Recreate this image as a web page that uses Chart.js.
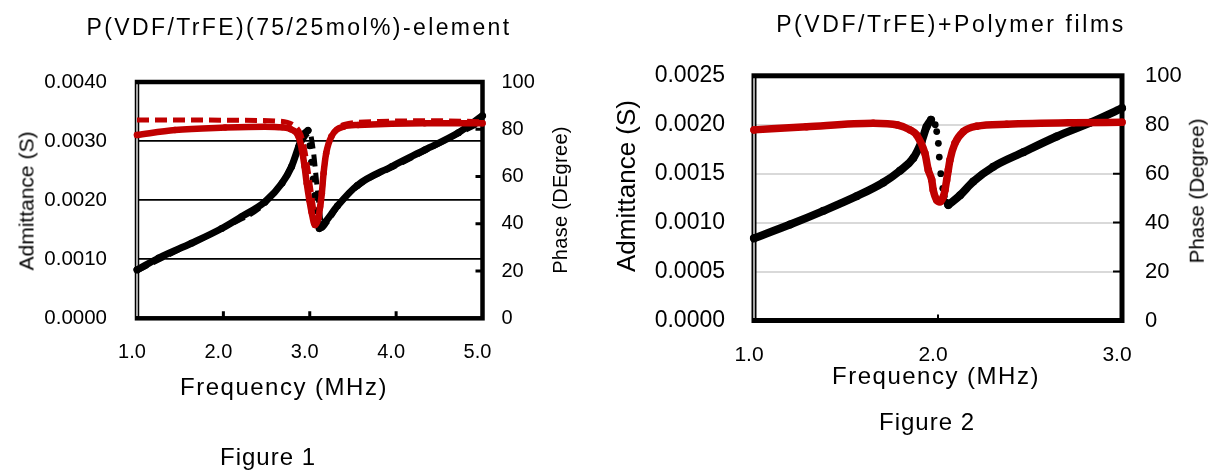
<!DOCTYPE html>
<html>
<head>
<meta charset="utf-8">
<script src="https://cdn.jsdelivr.net/npm/chart.js@4.4.1/dist/chart.umd.min.js"></script>
<style>
  html, body { margin: 0; padding: 0; background: #fff; }
  body { width: 1208px; height: 470px; position: relative; overflow: hidden;
         font-family: "Liberation Sans", Arial, sans-serif; color: #000; }
  canvas { position: absolute; top: 0; }
  .txt { position: absolute; white-space: nowrap; line-height: 1; }
  .c { transform: translateX(-50%); }
  .v { transform: translate(-50%, -50%) rotate(-90deg); }
</style>
</head>
<body>
<canvas id="fig1" width="600" height="470" style="left:0"></canvas>
<canvas id="fig2" width="608" height="470" style="left:600px"></canvas>

<!-- figure 1 texts -->
<div class="txt c" style="left:299px;top:16px;font-size:23px;letter-spacing:2.4px">P(VDF/TrFE)(75/25mol%)-element</div>
<div class="txt v" style="left:26px;top:201px;font-size:21px">Admittance (S)</div>
<div class="txt v" style="left:560px;top:200px;font-size:20px;letter-spacing:0.3px">Phase (DEgree)</div>
<div class="txt c" style="left:284px;top:375px;font-size:24px;letter-spacing:1.5px">Frequency (MHz)</div>
<div class="txt c" style="left:268px;top:445px;font-size:24px;letter-spacing:1px">Figure 1</div>

<!-- figure 2 texts -->
<div class="txt c" style="left:951px;top:13px;font-size:23px;letter-spacing:2.6px">P(VDF/TrFE)+Polymer films</div>
<div class="txt v" style="left:626px;top:186px;font-size:26px">Admittance (S)</div>
<div class="txt v" style="left:1197px;top:191px;font-size:20.5px">Phase (Degree)</div>
<div class="txt c" style="left:936px;top:364px;font-size:24px;letter-spacing:1.5px">Frequency (MHz)</div>
<div class="txt c" style="left:927px;top:410px;font-size:24px;letter-spacing:1px">Figure 2</div>

<script>
/* ---- Figure 1 : P(VDF/TrFE)(75/25mol%)-element ---- */
// measured admittance (solid black), gap across the resonance drop
const fig1AdmFreq = [1.0, 1.25, 1.63, 1.98, 2.21, 2.48, 2.68, 2.79, 2.87, 2.92, 2.98, 3.05, 3.11, 3.18, 3.32, 3.55, 3.95, 4.33, 4.72, 5.0];
const fig1Adm     = [0.00082, 0.00102, 0.00127, 0.00152, 0.00172, 0.00197, 0.00229, 0.00257, 0.00290, 0.00310, 0.00318, null,
                     0.00152, 0.00163, 0.00190, 0.00225, 0.00257, 0.00285, 0.00314, 0.00343];
// measured admittance points inside the drop
const fig1AdmDipFreq = [3.0, 3.02, 3.04, 3.06, 3.08, 3.095];
const fig1AdmDip     = [0.00292, 0.00264, 0.00236, 0.00208, 0.00182, 0.00164];
// simulated admittance (dashed black)
const fig1AdmSimFreq = [1.0, 1.5, 2.0, 2.5, 2.75, 2.9, 3.0, 3.04, 3.08, 3.12, 3.14, 3.2, 3.35, 3.6, 4.0, 4.4, 4.8, 5.0];
const fig1AdmSim     = [0.00080, 0.00117, 0.00153, 0.00197, 0.00248, 0.00296, 0.00314, 0.00285, 0.00230, 0.00175, 0.00152,
                        0.00162, 0.00194, 0.00228, 0.00258, 0.00288, 0.00318, 0.00333];
// measured phase (solid red)
const fig1PhaseFreq = [1.0, 1.44, 2.02, 2.48, 2.68, 2.78, 2.87, 2.91, 2.94, 2.965, 2.995, 3.02, 3.06, 3.10, 3.12, 3.14, 3.16,
                       3.19, 3.25, 3.39, 3.56, 4.33, 5.0];
const fig1Phase     = [77.6, 79.7, 80.7, 81.1, 80.8, 80.0, 76.9, 71.2, 64.2, 57.1, 50.1, 45.1, 39.5, 42.3, 47.2, 52.9, 61.4,
                       69.8, 76.9, 81.1, 81.8, 82.5, 82.5];
// simulated phase (dashed red)
const fig1PhaseSimFreq = [1.0, 1.6, 2.2, 2.6, 2.8, 2.9, 2.94, 2.975, 3.005, 3.035, 3.075, 3.115, 3.135, 3.155, 3.175, 3.2,
                          3.27, 3.4, 3.8, 4.4, 5.0];
const fig1PhaseSim     = [83.9, 83.9, 83.8, 83.5, 82.0, 77.5, 71.5, 64.0, 56.5, 49.0, 41.0, 44.5, 50.5, 58.0, 65.5, 71.5,
                          78.0, 82.0, 83.3, 83.6, 83.2];
const fig1FreqAxis  = [1, 5, 1];        // min, max, step
const fig1AdmAxis   = [0, 0.004, 0.001];
const phaseAxis     = [0, 100, 20];

/* ---- Figure 2 : P(VDF/TrFE)+Polymer films ---- */
const fig2AdmFreq = [1.0, 1.196, 1.377, 1.558, 1.703, 1.793, 1.866, 1.911, 1.938, 1.962, 2.01, 2.056, 2.12, 2.192, 2.3,
                     2.464, 2.645, 2.826, 3.0];
const fig2Adm     = [0.00084, 0.00098, 0.00112, 0.00127, 0.00141, 0.00153, 0.00166, 0.00183, 0.00198, 0.00205, null,
                     0.00118, 0.00128, 0.00142, 0.00157, 0.00172, 0.00188, 0.00202, 0.00217];
const fig2AdmDipFreq = [1.985, 1.993, 2.002, 2.007, 2.015, 2.026, 2.034, 2.045];
const fig2AdmDip     = [0.00200, 0.00193, 0.00181, 0.00167, 0.00150, 0.00135, 0.00127, 0.00121];
const fig2PhaseFreq = [1.0, 1.286, 1.648, 1.78, 1.848, 1.884, 1.929, 1.947, 1.966, 1.974, 1.993, 2.011, 2.029, 2.038,
                       2.047, 2.056, 2.065, 2.092, 2.138, 2.21, 2.373, 2.736, 3.0];
const fig2Phase     = [77.9, 79.2, 80.6, 79.9, 77.9, 75.8, 68.3, 61.5, 57.4, 53.3, 49.2, 48.5, 50.6, 53.3,
                       57.4, 61.5, 65.6, 72.4, 77.2, 79.4, 80.2, 80.8, 81.0];
const fig2FreqAxis = [1, 3, 1];
const fig2AdmAxis  = [0, 0.0025, 0.0005];

const RED = '#c00000';
const BLACK = '#000000';

Chart.defaults.font.family = "'Liberation Sans', Arial, sans-serif";
Chart.defaults.color = '#000';

const pts = (xs, ys) => xs.map((x, i) => ({ x, y: ys[i] }));

// thick plot frame + the little inward tick marks
const frame = {
  id: 'frame',
  beforeDatasetsDraw(chart, args, o) {
    const { ctx, chartArea: a, scales } = chart;
    ctx.save();
    ctx.strokeStyle = '#000';
    ctx.lineWidth = o.tickWidth;
    ctx.beginPath();
    scales.x.ticks.forEach(t => {
      if (t.value <= scales.x.min || t.value >= scales.x.max) return;
      const px = scales.x.getPixelForValue(t.value);
      ctx.moveTo(px, a.bottom);
      ctx.lineTo(px, a.bottom - o.tick);
    });
    scales.y1.ticks.forEach(t => {
      if (t.value <= scales.y1.min || t.value >= scales.y1.max) return;
      const py = scales.y1.getPixelForValue(t.value);
      ctx.moveTo(a.right, py);
      ctx.lineTo(a.right - o.tickR, py);
    });
    ctx.stroke();
    ctx.lineWidth = o.width;
    ctx.strokeRect(a.left, a.top, a.right - a.left, a.bottom - a.top);
    // left edge looks like a double line
    ctx.strokeStyle = '#fff';
    ctx.lineWidth = 1.3;
    ctx.beginPath();
    ctx.moveTo(a.left, a.top + o.width / 2);
    ctx.lineTo(a.left, a.bottom - o.width / 2);
    ctx.stroke();
    ctx.restore();
  }
};

function solid(data, color, width, axis, order) {
  return {
    data, yAxisID: axis, showLine: true, order, clip: 8,
    borderColor: color, backgroundColor: color, borderWidth: width,
    borderCapStyle: 'round', borderJoinStyle: 'round',
    pointRadius: width / 2, pointBorderWidth: 0, pointHoverRadius: 0,
    cubicInterpolationMode: 'monotone', spanGaps: false
  };
}

function dashed(data, color, width, axis, order) {
  return {
    data, yAxisID: axis, showLine: true, order, clip: 8,
    borderColor: color, backgroundColor: color, borderWidth: width,
    borderDash: [12, 6], pointRadius: 0,
    cubicInterpolationMode: 'monotone'
  };
}

function dots(data, color, radius, axis, order) {
  return {
    data, yAxisID: axis, showLine: false, order, clip: 8,
    backgroundColor: color, borderWidth: 0, pointRadius: radius
  };
}

function makeScales(s) {
  return {
    x: {
      type: 'linear', position: 'bottom', min: s.freq[0], max: s.freq[1],
      ticks: { stepSize: s.freq[2], callback: v => v.toFixed(1), font: { size: s.xFont },
               padding: s.xPad, labelOffset: -5, maxRotation: 0, autoSkip: false },
      grid: { display: false, drawTicks: false }, border: { display: false },
      afterFit: sc => { sc.height = s.xHeight; }
    },
    y: {
      position: 'left', min: s.adm[0], max: s.adm[1],
      ticks: { stepSize: s.adm[2], callback: v => v.toFixed(4), font: { size: s.yFont }, padding: s.yPad },
      grid: { color: s.gridColor, lineWidth: s.gridWidth, drawTicks: false }, border: { display: false },
      afterFit: sc => { sc.width = s.yWidth; }
    },
    y1: {
      position: 'right', min: phaseAxis[0], max: phaseAxis[1],
      ticks: { stepSize: phaseAxis[2], font: { size: s.y1Font }, padding: s.y1Pad },
      grid: { drawOnChartArea: false, drawTicks: false }, border: { display: false },
      afterFit: sc => { sc.width = s.y1Width; }
    }
  };
}

new Chart(document.getElementById('fig1'), {
  type: 'scatter',
  data: {
    datasets: [
      solid(pts(fig1PhaseFreq, fig1Phase), RED, 6.5, 'y1', 0),
      dashed(pts(fig1PhaseSimFreq, fig1PhaseSim), RED, 5, 'y1', 1),
      dashed(pts(fig1AdmSimFreq, fig1AdmSim), BLACK, 5, 'y', 2),
      dots(pts(fig1AdmDipFreq, fig1AdmDip), BLACK, 3.5, 'y', 3),
      solid(pts(fig1AdmFreq, fig1Adm), BLACK, 7, 'y', 4)
    ]
  },
  options: {
    responsive: false, animation: false, devicePixelRatio: 1,
    layout: { padding: { top: 82, left: 0, right: 0, bottom: 0 } },
    plugins: {
      legend: { display: false }, tooltip: { enabled: false },
      frame: { width: 4.5, tick: 7, tickR: 7, tickWidth: 3 }
    },
    scales: makeScales({
      freq: fig1FreqAxis, adm: fig1AdmAxis,
      xFont: 20, xPad: 22, xHeight: 151.7,
      yFont: 20.5, yPad: 30, yWidth: 137,
      y1Font: 20, y1Pad: 19, y1Width: 117.5,
      gridColor: '#000', gridWidth: 1.7
    })
  },
  plugins: [frame]
});

new Chart(document.getElementById('fig2'), {
  type: 'scatter',
  data: {
    datasets: [
      solid(pts(fig2PhaseFreq, fig2Phase), RED, 7.5, 'y1', 0),
      dots(pts(fig2AdmDipFreq, fig2AdmDip), BLACK, 3.4, 'y', 1),
      solid(pts(fig2AdmFreq, fig2Adm), BLACK, 8, 'y', 2)
    ]
  },
  options: {
    responsive: false, animation: false, devicePixelRatio: 1,
    layout: { padding: { top: 75.8, left: 0, right: 0, bottom: 0 } },
    plugins: {
      legend: { display: false }, tooltip: { enabled: false },
      frame: { width: 5, tick: 6, tickR: 9, tickWidth: 2 }
    },
    scales: makeScales({
      freq: fig2FreqAxis, adm: fig2AdmAxis,
      xFont: 21, xPad: 22.4, xHeight: 149.5,
      yFont: 23, yPad: 29, yWidth: 154,
      y1Font: 22, y1Pad: 23, y1Width: 86,
      gridColor: '#d9d9d9', gridWidth: 2
    })
  },
  plugins: [frame]
});
</script>
</body>
</html>
